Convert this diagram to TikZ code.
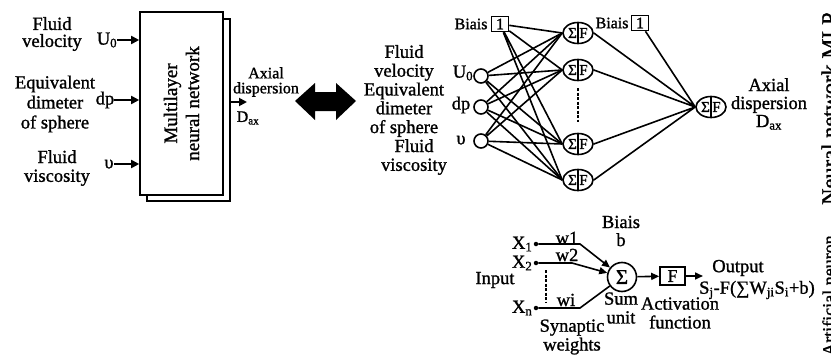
\documentclass[tikz,border=0pt]{standalone}
\usepackage{fontspec}
\setmainfont{Liberation Serif}[FakeBold=1.2]
\usetikzlibrary{positioning,arrows.meta,shapes.geometric}
\tikzset{
  txt/.style   ={font=\fontsize{18.5}{18.8}\selectfont, align=center, inner sep=0pt},
  stxt/.style  ={font=\fontsize{16}{15}\selectfont, align=center, inner sep=0pt},
  mlpbox/.style={rectangle, draw, fill=white, line width=1.6pt,
                 minimum width=83pt, minimum height=183pt},
  inp/.style   ={circle, draw, line width=1.6pt, minimum size=14pt, inner sep=0pt},
  neur/.style  ={ellipse, draw, line width=1.6pt, minimum width=30pt, minimum height=21pt,
                 inner sep=0pt, font=\fontsize{15}{15}\selectfont,
                 path picture={\draw[line width=1.3pt] (path picture bounding box.north)
                               -- (path picture bounding box.south);}},
  bbox/.style  ={rectangle, draw, line width=1.6pt, minimum width=17pt, minimum height=15pt,
                 inner sep=0pt, font=\fontsize{16}{16}\selectfont},
  sumc/.style  ={circle, draw, line width=1.6pt, minimum size=29pt, inner sep=0pt,
                 font=\fontsize{21}{21}\selectfont},
  actbox/.style={rectangle, draw, line width=1.6pt, minimum width=25pt, minimum height=18pt,
                 inner sep=0pt, font=\fontsize{18}{18}\selectfont},
  xdot/.style  ={circle, fill, inner sep=0pt, minimum size=4.5pt},
  wire/.style  ={line width=1.6pt},
  arr/.style   ={-{Triangle[length=8pt,width=8pt]}, line width=1.8pt},
  warr/.style  ={-{Triangle[length=8pt,width=7pt]}, line width=1.6pt},
}
\newcommand{\sumf}{\makebox[9pt]{Σ}\hspace{2pt}\makebox[9pt]{F}}

\begin{document}
\begin{tikzpicture}[x=1pt,y=-1pt]
  \useasboundingbox (0,0) rectangle (831,356);
  % block diagram
  \draw[line width=1.6pt] (147,19) rectangle (230,201);
  \node[mlpbox] (mlp) at (181.5,103.5) {};
  \node[txt, rotate=90, font=\fontsize{19}{22}\selectfont] (mlpt) at (mlp.center) {Multilayer\\neural network};
  \node[txt, font=\fontsize{18.5}{17}\selectfont] (fv) at (52,34) {Fluid\\velocity};
  \node[txt, font=\fontsize{18.5}{20}\selectfont] (ed) at (55,104) {Equivalent\\dimeter\\of sphere};
  \node[txt] (fs) at (57,168) {Fluid\\viscosity};
  \node[txt] (u0) at (107,40) {U\textsubscript{0}};
  \node[txt] (dp) at (105,100) {dp};
  \node[txt] (nu) at (109,164) {υ};
  \draw[arr] (u0) -- (u0 -| mlp.west);
  \draw[arr] (dp) -- (dp -| mlp.west);
  \draw[arr] (nu) -- (nu -| mlp.west);
  \coordinate (mlpo) at ([xshift=7pt]mlp.east);
  \coordinate (dax) at (247,102);
  \draw[arr] (mlpo |- dax) -- (dax);
  \node[stxt] (axl) at (266,82) {Axial\\dispersion};
  \node[stxt] (daxl) at (248,118) {D\textsubscript{ax}};
  % double arrow
  \fill (295,101) -- (315,83) -- (315,92) -- (336,92) -- (336,83) -- (356,101)
        -- (336,120) -- (336,111) -- (315,111) -- (315,120) -- cycle;
  % network MLP
  \node[txt] (fvb) at (404,91) {Fluid\\velocity\\Equivalent\\dimeter\\of sphere};
  \node[txt] (fsb) at (414,157) {Fluid\\viscosity};
  \node[inp] (i1) at (481,76) {};
  \node[inp] (i2) at (481,107) {};
  \node[inp] (i3) at (481,141) {};
  \node[txt] (i1l) at (463,73) {U\textsubscript{0}};
  \node[txt] (i2l) at (461,105) {dp};
  \node[txt] (i3l) at (461,140) {υ};
  \node[bbox] (b1) at (500,24) {1};
  \node[stxt, left=3pt of b1] (b1l) {Biais};
  \node[neur] (h1) at (578,33) {\sumf};
  \node[neur] (h2) at (578,70) {\sumf};
  \node[neur] (h3) at (578,144) {\sumf};
  \node[neur] (h4) at (578,180) {\sumf};
  \draw[line width=1.3pt, dash pattern=on 3pt off 1.5pt] ([yshift=-18pt]h2.center) -- ([yshift=22pt]h3.center);
  \node[neur] (out) at (711,107) {\sumf};
  \node[bbox] (b2) at (640,23) {1};
  \node[stxt, left=2pt of b2] (b2l) {Biais};
  \node[txt, font=\fontsize{18.5}{18}\selectfont] (outl) at (769,104) {Axial\\dispersion\\D\textsubscript{ax}};
  \draw[wire] (b1) -- (h1.west) (b1) -- (h2.west) (b1) -- (h3.west) (b1) -- (h4.west);
  \draw[wire] (i1) -- (h1.west) (i1) -- (h2.west) (i1) -- (h3.west) (i1) -- (h4.west);
  \draw[wire] (i2) -- (h1.west) (i2) -- (h2.west) (i2) -- (h3.west) (i2) -- (h4.west);
  \draw[wire] (i3) -- (h1.west) (i3) -- (h2.west) (i3) -- (h3.west) (i3) -- (h4.west);
  \draw[wire] (h1.east) -- (out.west) (h2.east) -- (out.west) (h3.east) -- (out.west)
              (h4.east) -- (out.west) (b2) -- (out.west);
  % artificial neuron
  \node[xdot] (x1) at (536,244) {};
  \node[xdot] (x2) at (536,263) {};
  \node[xdot] (xn) at (536,308) {};
  \node[txt, left=1pt of x1] (x1l) {X\textsubscript{1}};
  \node[txt, left=1pt of x2] (x2l) {X\textsubscript{2}};
  \node[txt, left=1pt of xn] (xnl) {X\textsubscript{n}};
  \node[txt] (inl) at (495,280) {Input};
  \node[sumc] (sum) at (622,277) {Σ};
  \coordinate (k1) at (580,244);
  \coordinate (k2) at (572,263);
  \coordinate (kn) at (580,308);
  \draw[warr] (x1) -- (k1) -- (sum);
  \draw[warr] (x2) -- (k2) -- (sum);
  \draw[wire] (xn) -- (kn) -- (sum);
  \coordinate (dd1) at (546,270);
  \coordinate (dd2) at (546,302);
  \draw[line width=1.3pt, dash pattern=on 3pt off 1.5pt] (dd1) -- (dd2);
  \node[txt] (w1) at (567,238) {w1};
  \node[txt] (w2) at (567,255) {w2};
  \node[txt] (wi) at (566,300) {wi};
  \node[txt, font=\fontsize{18.5}{18}\selectfont] (bl) at (621,231) {Biais\\b};
  \node[actbox] (fb) at (672.5,276) {F};
  \draw[warr] (sum) -- (fb);
  \coordinate (yo) at (703,276);
  \draw[warr] (fb) -- (yo);
  \node[txt] (outp) at (738,268) {Output};
  \node[txt] (form) at (757,290) {S\textsubscript{j}-F(∑W\textsubscript{ji}S\textsubscript{i}+b)};
  \node[txt] (su) at (621,308) {Sum\\unit};
  \node[txt] (af) at (680,313) {Activation\\function};
  \node[txt] (sw) at (572,337) {Synaptic\\weights};
  % side labels
  \node[txt, rotate=90, anchor=base west, font=\fontsize{22.5}{22}\selectfont] (nnm) at (837,205) {Neural network MLP};
  \node[txt, rotate=90, anchor=base west, font=\fontsize{18}{18}\selectfont] (anm) at (835,356) {Artificial neuron};
\end{tikzpicture}
\end{document}
